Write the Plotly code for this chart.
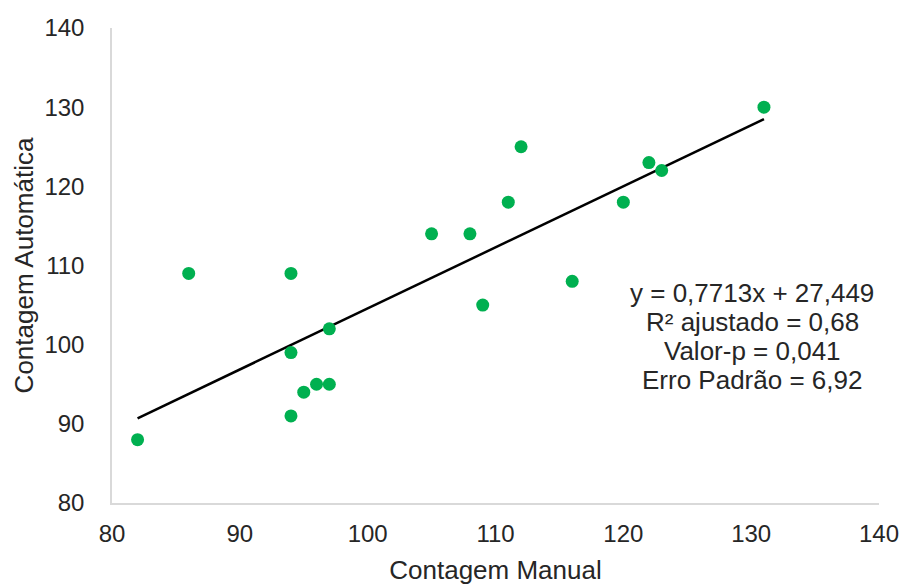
import plotly.graph_objects as go

manual = [82, 86, 94, 94, 94, 95, 96, 97, 97, 105, 108, 109, 111, 112, 116, 120, 122, 123, 131]
automatica = [88, 109, 109, 99, 91, 94, 95, 95, 102, 114, 114, 105, 118, 125, 108, 118, 123, 122, 130]
slope = 0.7713
intercept = 27.449
stats_lines = ["y = 0,7713x + 27,449", "R² ajustado = 0,68", "Valor-p = 0,041", "Erro Padrão = 6,92"]

xmin, xmax = min(manual), max(manual)
trend_x = [xmin, xmax]
trend_y = [slope * v + intercept for v in trend_x]

font_family = "Liberation Sans, Arial, sans-serif"
text_color = "#262626"

fig = go.Figure()
fig.add_trace(go.Scatter(x=trend_x, y=trend_y, mode="lines",
                         line=dict(color="black", width=2.5), showlegend=False, hoverinfo="skip"))
fig.add_trace(go.Scatter(x=manual, y=automatica, mode="markers",
                         marker=dict(color="#00b050", size=13), showlegend=False))

# stats box: one line per annotation, anchored in paper coords
line_top = 0.442   # paper y of first line centre
line_step = 0.061
for i, txt in enumerate(stats_lines):
    fig.add_annotation(x=0.8346, y=line_top - i * line_step, xref="paper", yref="paper",
                       text=txt, showarrow=False, xanchor="center", yanchor="middle",
                       font=dict(family=font_family, size=26, color=text_color))

fig.update_layout(
    width=910, height=585,
    margin=dict(l=112, r=31, t=28, b=82),
    plot_bgcolor="white", paper_bgcolor="white",
    font=dict(family=font_family, size=24, color=text_color),
    xaxis=dict(range=[80, 140], dtick=10, showgrid=False, zeroline=False,
               showline=True, linecolor="#d9d9d9", linewidth=1.5, ticks="",
               ticklabelstandoff=8, automargin=False,
               title=dict(text="Contagem Manual", standoff=24, font=dict(size=26)),
               tickfont=dict(size=24, color=text_color)),
    yaxis=dict(range=[80, 140], dtick=10, showgrid=False, zeroline=False,
               showline=True, linecolor="#d9d9d9", linewidth=1.5, ticks="",
               ticklabelstandoff=21, automargin=False,
               title=dict(text="Contagem Automática", standoff=3, font=dict(size=26)),
               tickfont=dict(size=24, color=text_color)),
)

fig.write_html("out.html")
